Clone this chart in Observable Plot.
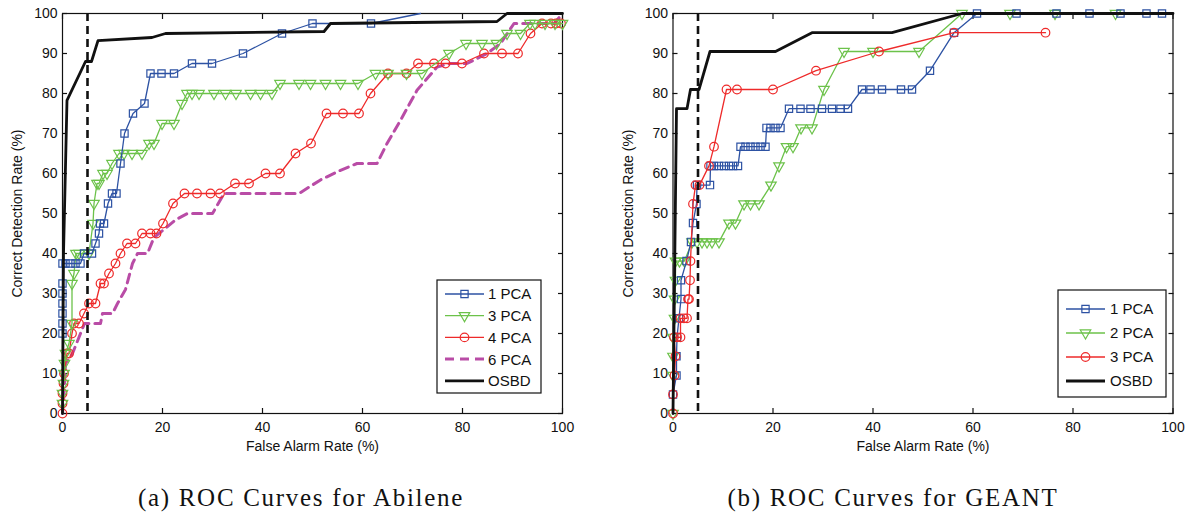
<!DOCTYPE html>
<html>
<head>
<meta charset="utf-8">
<script src="https://cdn.jsdelivr.net/npm/d3@7"></script>
<script src="https://cdn.jsdelivr.net/npm/@observablehq/plot@0.6"></script>
<style>
  html, body { margin: 0; padding: 0; background: #fff; }
  #page { position: relative; width: 1190px; height: 515px; overflow: hidden; background: #fff; }
  .panel { position: absolute; top: 0; }
  .cap { position: absolute; top: 485px; font-family: "Liberation Serif", "Times New Roman", serif; font-size: 25px; line-height: 25px; letter-spacing: 1.7px; white-space: nowrap; transform: translateX(-50%); color: #111; }
  #overlay { position: absolute; left: 0; top: 0; pointer-events: none; }
</style>
</head>
<body>
<div id="page">
  <div id="left" class="panel" style="left:0px"></div>
  <div id="right" class="panel" style="left:595px"></div>
  <div class="cap" style="left:301px">(a) ROC Curves for Abilene</div>
  <div class="cap" style="left:893px">(b) ROC Curves for GEANT</div>
</div>
<script>
// ---------- data ----------
const xTicks = [0, 20, 40, 60, 80, 100];
const yTicks = [0, 10, 20, 30, 40, 50, 60, 70, 80, 90, 100];
const threshold = [5];

// Abilene (left)
const abilenePCA1 = [[0,20],[0,22.5],[0,25],[0,27.5],[0,30],[0,32.5],[0,37.5],[0.6,37.5],[1.6,37.5],[2.6,37.5],[3.6,37.5],[4.3,40],[5.9,40],[6.6,42.5],[7.3,45],[7.5,47.5],[8.3,47.5],[9.1,52.5],[9.9,55],[10.8,55],[11.6,62.5],[12.4,70],[14.1,75],[16.4,77.5],[17.6,85],[19.8,85],[22.3,85],[25.9,87.5],[29.9,87.5],[36.1,90],[43.9,95],[50,97.5],[61.7,97.5],[71.6,100]];
const abilenePCA3 = [[0,2.5],[0,5],[0.2,7.5],[0.3,10],[0.4,12.5],[0.6,15],[1.3,17.5],[1.9,22.5],[1.9,32.5],[2.3,35],[2.7,40],[3.3,40],[5.3,40],[6.1,47.5],[6.3,52.5],[6.9,57.5],[7.3,57.5],[8.1,60],[8.9,60],[9.9,62.5],[11.3,65],[12.3,65],[13.9,65],[15.9,65],[17.3,67.5],[18.3,67.5],[19.9,72.5],[22.3,72.5],[23.9,77.5],[24.9,80],[25.9,80],[27.3,80],[30.3,80],[32.6,80],[34.7,80],[37.6,80],[39.6,80],[41.9,80],[43.5,82.5],[47.3,82.5],[49.6,82.5],[52.6,82.5],[55.6,82.5],[59.1,82.5],[62.6,85],[65.1,85],[68.8,85],[71.9,85],[77.3,90],[80.7,92.5],[83.9,92.5],[86.8,92.5],[88.9,95],[91.6,95],[93.5,97.5],[94.5,97.5],[96.5,97.5],[98.5,97.5],[100,97.5]];
const abilenePCA4 = [[0,0],[0,2.5],[0,5],[0.2,7.5],[0.3,10],[0.9,15],[1.3,15],[1.9,20],[2.3,22.5],[3.3,22.5],[4.3,25],[5.3,27.5],[6.6,27.5],[7.6,32.5],[8.3,32.5],[9.3,35],[10.6,37.5],[11.6,40],[12.9,42.5],[14.6,42.5],[15.9,45],[17.6,45],[18.8,45],[20.1,47.5],[22.1,52.5],[24.4,55],[26.9,55],[29.6,55],[31.5,55],[34.5,57.5],[37.3,57.5],[40.6,60],[43.5,60],[46.6,65],[49.7,67.5],[52.8,75],[56.1,75],[59.3,75],[61.6,80],[65.1,85],[68.8,85],[71.1,87.5],[74.3,87.5],[76.6,87.5],[79.9,87.5],[84.3,90],[87.9,90],[91.1,90],[93.6,95],[95.9,97.5],[97.7,97.5],[98.7,97.5],[99.7,97.5]];
const abilenePCA6 = [[0,0],[0.3,5],[0.6,12.5],[2,15],[3.6,20],[4.4,22.5],[7.6,22.5],[8,25],[10,25],[11,27.5],[12.6,31],[14,37.5],[15,40],[17,40],[18.3,44],[20.3,46],[22.6,48.4],[25,50],[30,50],[32.3,55],[47.3,55],[51.6,58.4],[55.6,60.8],[58.9,62.5],[62.9,62.5],[64.9,67.5],[67.6,73.3],[70.9,80.8],[74.9,86.6],[77.6,87.5],[80.9,87.5],[84.9,90],[87.6,92.5],[90.3,97.5],[98.3,97.5],[100,100]];
const abileneOSBD = [[0,0],[0.2,40],[0.9,78.3],[4.6,88],[5.8,88],[7.1,93.2],[17.9,94],[20.6,95],[52.3,95.5],[53.6,97.5],[86.9,98],[88.9,100],[100,100]];

// GEANT (right)
const geantPCA1 = [[0,4.76],[0.7,9.52],[0.7,14.3],[0.8,19.05],[1.2,23.8],[1.6,28.6],[1.6,33.3],[2.7,38.1],[3.6,42.9],[4.0,47.6],[4.7,52.4],[4.8,57.1],[7.4,57.1],[7.5,61.9],[8.2,61.9],[9.2,61.9],[10.2,61.9],[11.2,61.9],[12.0,61.9],[13.0,61.9],[13.5,66.7],[14.5,66.7],[15.5,66.7],[16.5,66.7],[17.5,66.7],[18.5,66.7],[18.7,71.4],[19.5,71.4],[20.5,71.4],[21.5,71.4],[23.2,76.2],[25.5,76.2],[27.5,76.2],[29.8,76.2],[31.8,76.2],[33.5,76.2],[35,76.2],[37.8,81],[39.5,81],[41.8,81],[45.6,81],[47.8,81],[51.4,85.7],[56.2,95.2],[60.8,100],[68.7,100],[76.7,100],[83.3,100],[89.5,100],[94.7,100],[97.8,100]];
const geantPCA2 = [[0,0],[0,9.52],[0,14.3],[0,19.05],[0.3,23.8],[0.3,28.6],[0.5,33.3],[0.5,38.1],[1.3,38.1],[2.3,38.1],[3.8,42.9],[4.8,42.9],[5.8,42.9],[6.8,42.9],[7.8,42.9],[9.2,42.9],[11.2,47.6],[12.5,47.6],[14.2,52.4],[15.5,52.4],[17.2,52.4],[19.6,57.1],[21.2,61.9],[22.7,66.7],[24,66.7],[25.6,71.4],[27.8,71.4],[30.2,81],[34.2,90.5],[40,90.5],[49.2,90.5],[57.8,100],[67.4,100],[76.4,100],[88.5,100]];
const geantPCA3 = [[0,0],[0,4.76],[0.3,9.52],[0.5,14.3],[0.2,19.05],[0.8,19.05],[1.5,19.05],[1.5,23.8],[2.2,23.8],[2.8,23.8],[3.0,28.6],[3.2,28.6],[3.4,33.3],[3.5,38.1],[4.0,52.4],[4.5,57.1],[5.3,57.1],[7.2,61.9],[8.2,66.7],[10.7,81],[12.8,81],[20,81],[28.6,85.7],[41.2,90.5],[56.2,95.2],[74.5,95.2]];
const geantOSBD = [[0,0],[0.7,76.2],[2.8,76.2],[3.5,81],[5.2,81],[7.4,90.5],[20.5,90.5],[27.8,95.2],[43.8,95.2],[57.8,100],[100,100]];

const abileneNames = ["1 PCA", "3 PCA", "4 PCA", "6 PCA", "OSBD"];
const geantNames = ["1 PCA", "2 PCA", "3 PCA", "OSBD"];

// ---------- styles ----------
const BLUE = "#2d52a3", GREEN = "#6cc24a", RED = "#ee2a2a", MAGENTA = "#b94ca6", BLACK = "#111";
const sq = {symbol: "square", r: 4.1, stroke: BLUE, fill: "none", strokeWidth: 1.2};
const tri = {symbol: "triangle", r: 3.9, rotate: 180, stroke: GREEN, fill: "none", strokeWidth: 1.2};
const circ = {symbol: "circle", r: 4.3, stroke: RED, fill: "none", strokeWidth: 1.2};

function series(data, color, sym, extra = {}, dotFilter = null) {
  const marks = [Plot.line(data, {x: d => d[0], y: d => d[1], stroke: color, strokeWidth: 1.3, ...extra})];
  if (sym) marks.push(Plot.dot(dotFilter ? data.filter(dotFilter) : data, {x: d => d[0], y: d => d[1], ...sym}));
  return marks;
}

function frameAxes(labelOffsetY) {
  return [
    Plot.frame({stroke: "#111", strokeWidth: 1.2}),
    Plot.axisX(xTicks, {anchor: "bottom", tickSize: -5, tickPadding: 14, strokeWidth: 1.2, label: "False Alarm Rate (%)", labelAnchor: "center", labelOffset: 37, labelArrow: "none"}),
    Plot.axisX(xTicks, {anchor: "top", tickSize: -5, strokeWidth: 1.2, tickFormat: () => "", label: null}),
    Plot.axisY(yTicks, {anchor: "left", tickSize: -5, tickPadding: 10, strokeWidth: 1.2, label: "Correct Detection Rate (%)", labelAnchor: "center", labelOffset: labelOffsetY, labelArrow: "none"}),
    Plot.axisY(yTicks, {anchor: "right", tickSize: -5, strokeWidth: 1.2, tickFormat: () => "", label: null})
  ];
}

const common = {
  height: 460, marginTop: 13, marginBottom: 47,
  x: {domain: [0, 100]}, y: {domain: [0, 100]},
  style: {fontFamily: "'Liberation Sans', Arial, sans-serif", fontSize: "14px", color: "#111", background: "transparent", overflow: "visible"}
};

const left = Plot.plot({
  ...common, width: 600, marginLeft: 62, marginRight: 38,
  marks: [
    ...frameAxes(50),
    ...series(abilenePCA6, MAGENTA, null, {strokeWidth: 3, strokeDasharray: "9,6"}),
    ...series(abilenePCA4, RED, circ),
    ...series(abilenePCA3, GREEN, tri),
    ...series(abilenePCA1, BLUE, sq, {}, d => d[1] < 100),
    ...series(abileneOSBD, BLACK, null, {strokeWidth: 2.8}),
    Plot.ruleX(threshold, {x: d => d, stroke: BLACK, strokeWidth: 2.6, strokeDasharray: "8,5"})
  ]
});
document.getElementById("left").appendChild(left);

const right = Plot.plot({
  ...common, width: 595, marginLeft: 77.5, marginRight: 17.5,
  marks: [
    ...frameAxes(50),
    ...series(geantPCA2, GREEN, tri),
    ...series(geantPCA1, BLUE, sq),
    ...series(geantPCA3, RED, circ),
    ...series(geantOSBD, BLACK, null, {strokeWidth: 2.8}),
    Plot.ruleX(threshold, {x: d => d, stroke: BLACK, strokeWidth: 2.6, strokeDasharray: "8,5"})
  ]
});
document.getElementById("right").appendChild(right);

// ---------- legends ----------
const overlay = d3.select("#page").append("svg").attr("id", "overlay").attr("width", 1190).attr("height", 515);
const symSize = r => Math.PI * r * r;
const styleFor = {
  "1 PCA": {color: BLUE, sym: d3.symbolSquare, r: 4.1, rot: 0},
  "2 PCA": {color: GREEN, sym: d3.symbolTriangle, r: 3.9, rot: 180},
  "3 PCA": {color: GREEN, sym: d3.symbolTriangle, r: 3.9, rot: 180},
  "4 PCA": {color: RED, sym: d3.symbolCircle, r: 4.3, rot: 0},
  "6 PCA": {color: MAGENTA, dash: true},
  "OSBD": {color: BLACK, thick: true}
};
function legend(names, box, styles) {
  const g = overlay.append("g");
  g.append("rect").attr("x", box.x).attr("y", box.y).attr("width", box.w).attr("height", box.h)
    .attr("fill", "#fff").attr("stroke", "#111").attr("stroke-width", 1.2);
  names.forEach((name, i) => {
    const s = styles[name];
    const y = box.firstY + i * box.step;
    g.append("line").attr("x1", box.lx1).attr("x2", box.lx2).attr("y1", y).attr("y2", y)
      .attr("stroke", s.color).attr("stroke-width", s.thick ? 2.8 : s.dash ? 3 : 1.3)
      .attr("stroke-dasharray", s.dash ? "9,6" : null);
    if (s.sym) {
      g.append("path").attr("d", d3.symbol(s.sym, symSize(s.r))())
        .attr("transform", `translate(${(box.lx1 + box.lx2) / 2},${y}) rotate(${s.rot})`)
        .attr("fill", "none").attr("stroke", s.color).attr("stroke-width", 1.2);
    }
    g.append("text").attr("x", box.tx).attr("y", y).attr("dy", "0.36em")
      .attr("font-family", "'Liberation Sans', Arial, sans-serif").attr("font-size", 15).attr("fill", "#111")
      .text(name);
  });
}
const geantStyles = {...styleFor, "3 PCA": {color: RED, sym: d3.symbolCircle, r: 4.3, rot: 0}};
legend(abileneNames, {x: 437, y: 280, w: 104, h: 113, firstY: 294, step: 21.7, lx1: 445, lx2: 484, tx: 488}, styleFor);
legend(geantNames, {x: 1058, y: 290, w: 108, h: 107, firstY: 309, step: 24, lx1: 1066, lx2: 1105, tx: 1110}, geantStyles);
</script>
</body>
</html>
